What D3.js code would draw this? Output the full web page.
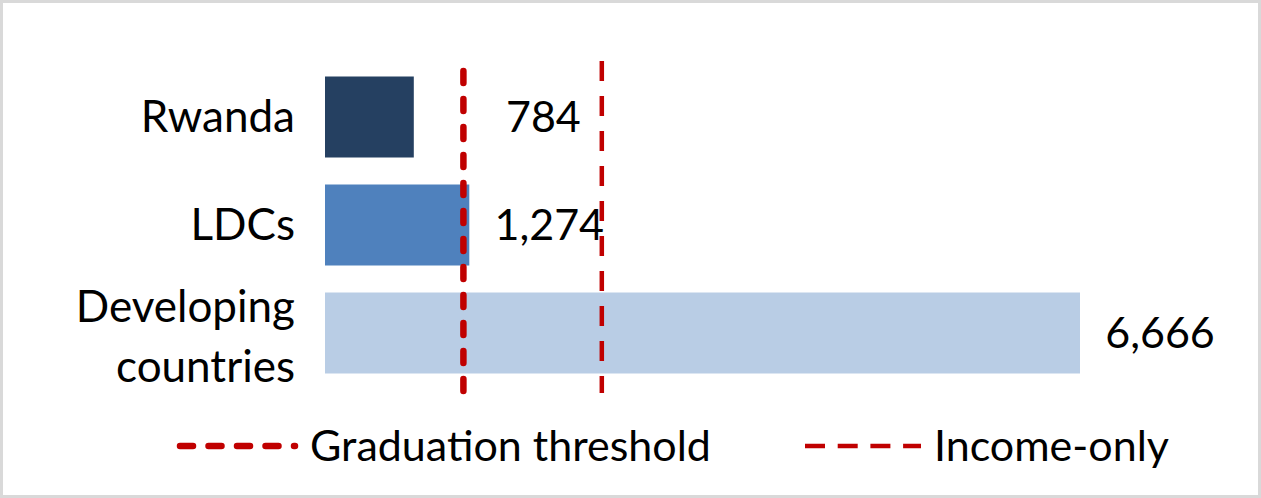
<!DOCTYPE html>
<html>
<head>
<meta charset="utf-8">
<script src="https://cdn.jsdelivr.net/npm/d3@7"></script>
<style>
  html, body { margin: 0; padding: 0; background: #fff; }
  svg { display: block; }
  text { font-family: Lato, "Open Sans", sans-serif; fill: #000; }
</style>
</head>
<body>
<div id="chart"></div>
<script>
// data
var categories = ["Rwanda", "LDCs", "Developing countries"];
var gniValues = [784, 1274, 6666];
var barColors = ["#254061", "#4f81bd", "#b9cde5"];
var thresholdNames = ["Graduation threshold", "Income-only"];
var thresholdValues = [1222, 2444];

var width = 1261, height = 498;

var svg = d3.select("#chart").append("svg")
    .attr("width", width)
    .attr("height", height);

// frame
svg.append("rect")
    .attr("x", 1.5).attr("y", 1.5)
    .attr("width", width - 3).attr("height", height - 3)
    .style("fill", "#fff")
    .style("stroke", "#d9d9d9")
    .style("stroke-width", 3);

var x = d3.scaleLinear()
    .domain([0, d3.max(gniValues)])
    .range([325, 1080]);

var y = d3.scaleBand()
    .domain(categories)
    .range([63, 387])
    .paddingInner(0.25)
    .paddingOuter(0.125);

var fmt = d3.format(",");

// bars
svg.append("g").selectAll("rect")
  .data(categories)
  .enter()
  .append("rect")
    .attr("x", x(0))
    .attr("y", function(d) { return y(d); })
    .attr("width", function(d, i) { return x(gniValues[i]) - x(0); })
    .attr("height", y.bandwidth())
    .style("fill", function(d, i) { return barColors[i]; });

// category labels (wrap the long one on two lines)
var catLabels = svg.append("g").selectAll("text")
  .data(categories)
  .enter()
  .append("text")
    .attr("text-anchor", "end")
    .style("font-size", "44px");

catLabels.each(function(d) {
  var t = d3.select(this);
  var c = y(d) + y.bandwidth() / 2;
  var words = d.split(" ");
  if (words.length == 1) {
    t.append("tspan").attr("x", 295).attr("y", c + 15).text(d);
  } else {
    t.append("tspan").attr("x", 295).attr("y", c - 11).text(words[0]);
    t.append("tspan").attr("x", 295).attr("y", c + 49).text(words[1]);
  }
});

// threshold lines
var lineStyles = [
  { w: 6.5, dash: "12 16", cap: "round" },
  { w: 4.5, dash: "20 15", cap: "butt" }
];

svg.append("g").selectAll("line")
  .data(thresholdValues)
  .enter()
  .append("line")
    .attr("x1", function(d) { return x(d); })
    .attr("x2", function(d) { return x(d); })
    .attr("y1", function(d, i) { return i == 0 ? y.range()[0] + 8 : y.range()[0] - 2; })
    .attr("y2", y.range()[1] + 6)
    .style("stroke", "#c00000")
    .style("stroke-width", function(d, i) { return lineStyles[i].w; })
    .style("stroke-dasharray", function(d, i) { return lineStyles[i].dash; })
    .style("stroke-linecap", function(d, i) { return lineStyles[i].cap; });

// value labels, kept clear of the graduation line
svg.append("g").selectAll("text")
  .data(gniValues)
  .enter()
  .append("text")
    .attr("x", function(d) { return Math.max(x(d), x(thresholdValues[0])) + 80; })
    .attr("y", function(d, i) { return y(categories[i]) + y.bandwidth() / 2 + 15; })
    .attr("text-anchor", "middle")
    .style("font-size", "43px")
    .text(function(d) { return fmt(d); });

// legend
var legendX = [177, 805];
var legend = svg.append("g").selectAll("g")
  .data(thresholdNames)
  .enter()
  .append("g")
    .attr("transform", function(d, i) { return "translate(" + legendX[i] + ",446)"; });

legend.append("line")
    .attr("x1", function(d, i) { return i == 0 ? 3 : 0; })
    .attr("x2", function(d, i) { return i == 0 ? 118 : 116; })
    .style("stroke", "#c00000")
    .style("stroke-width", function(d, i) { return lineStyles[i].w; })
    .style("stroke-dasharray", function(d, i) { return i == 0 ? "13 15.5" : "20 12.7"; })
    .style("stroke-linecap", function(d, i) { return lineStyles[i].cap; });

legend.append("text")
    .attr("x", function(d, i) { return i == 0 ? 133 : 129; })
    .attr("y", 15)
    .style("font-size", "43px")
    .text(function(d) { return d; });
</script>
</body>
</html>
